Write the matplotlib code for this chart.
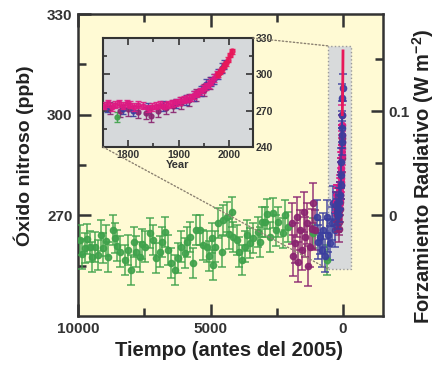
import matplotlib
matplotlib.use('Agg')
import matplotlib.pyplot as plt
from matplotlib.patches import Rectangle, ConnectionPatch
from matplotlib.ticker import FixedLocator

plt.rcParams['font.family'] = ['Liberation Sans', 'DejaVu Sans']
plt.rcParams['font.weight'] = 'bold'
plt.rcParams['axes.labelweight'] = 'bold'
plt.rcParams['mathtext.fontset'] = 'custom'
plt.rcParams['mathtext.rm'] = 'Liberation Sans:bold'
plt.rcParams['mathtext.bf'] = 'Liberation Sans:bold'
plt.rcParams['mathtext.default'] = 'bf'

# ---------------- data ----------------
# ice-core record, years before 2005
green_age = [9940, 9850, 9750, 9660, 9560, 9470, 9370, 9250, 9150, 9060, 8960, 8870, 8680, 8620,
             8520, 8430, 8240, 8110, 7990, 7900, 7800, 7670, 7580, 7480, 7300, 7170, 7050, 6920,
             6820, 6730, 6600, 6480, 6350, 6230, 6100, 5980, 5880, 5790, 5660, 5540, 5410, 5280,
             5140, 5050, 4960, 4900, 4830, 4700, 4580, 4520, 4390, 4290, 4200, 4140, 4010, 3920,
             3820, 3700, 3610, 3510, 3390, 3200, 3130, 3070, 2940, 2850, 2760, 2630, 2540, 2440,
             2260, 2200, 2060, 1130, 600]
green_ppb = [262.7, 258.5, 260.2, 263.0, 260.7, 257.5, 260.5, 258.2, 264.0, 260.2, 262.5, 257.7,
             265.6, 263.2, 261.0, 259.2, 256.7, 259.7, 253.7, 262.0, 259.2, 257.7, 261.5, 260.7,
             264.7, 262.7, 257.2, 259.2, 262.0, 265.1, 259.7, 255.7, 253.7, 257.2, 260.7, 258.7,
             262.0, 263.6, 255.7, 265.6, 265.6, 261.2, 260.7, 258.0, 263.2, 255.2, 260.7, 267.6,
             259.2, 268.6, 269.6, 264.5, 271.1, 263.6, 262.7, 259.0, 256.7, 260.7, 264.0, 261.7,
             263.2, 265.1, 262.0, 268.1, 268.1, 270.5, 263.6, 270.6, 265.5, 268.1, 264.7, 270.0,
             266.6, 264.7, 256.7]

purple_age = [1940, 1880, 1810, 1750, 1680, 1620, 1560, 1490, 1430, 1370, 1310, 1250, 1180, 1120, 1060]
purple_ppb = [267.6, 258.0, 261.7, 269.6, 256.0, 265.6, 259.7, 271.0, 263.6, 267.6, 255.0, 260.7,
              266.0, 273.6, 265.6]

blue_age = [990, 930, 870, 800, 740, 680, 620, 550, 490, 430, 370, 300, 240]
blue_ppb = [269.6, 262.0, 263.6, 259.7, 265.6, 258.0, 269.6, 264.0, 261.7, 267.6, 273.6, 265.6, 271.6]

# industrial era (calendar years)
mag_year = [1752, 1760, 1768, 1775, 1783, 1790, 1798, 1805, 1813, 1820, 1830, 1840, 1848, 1856,
            1864, 1872, 1880, 1888, 1896, 1903, 1910, 1917, 1924, 1930, 1937, 1943, 1949, 1955,
            1960, 1965, 1970, 1975]
mag_ppb = [274, 276, 273, 275, 276, 274, 276, 275, 273, 275, 274, 272, 273, 274, 275, 274, 275, 276,
           277, 278, 279, 280, 281, 283, 284, 286, 288, 290, 292, 294, 297, 300]

pur2_year = [1765, 1785, 1800, 1820, 1835, 1845, 1860, 1875, 1890, 1905, 1920, 1935, 1950, 1962]
pur2_ppb = [272, 270, 271, 269, 268, 266, 270, 272, 274, 276, 279, 283, 287, 293]

blu2_year = [1758, 1790, 1810, 1840, 1870, 1895, 1915, 1930, 1945, 1955, 1965, 1970, 1978, 1985, 1990]
blu2_ppb = [273, 271, 270, 272, 274, 276, 279, 282, 286, 292, 294, 296, 300, 305, 308]

grn2_year = [1778]
grn2_ppb = [265]

red_year = [1978, 1982, 1986, 1990, 1994, 1998, 2002, 2005]
red_ppb = [300, 302, 304, 307, 309, 312, 316, 319]

# ---------------- styling ----------------
GREEN = '#3FA24B'
PURPLE = '#8A2470'
BLUE = '#3B3E9E'
MAG = '#DE1A82'
RED = '#E8185A'
DARK = '#333333'
W, H = 440, 368

fig = plt.figure(figsize=(4.4, 3.68), dpi=100)
ax = fig.add_axes([78/W, 1-316/H, 305/W, 302/H])
ax.set_facecolor('#FFFAD4')


def eb(a, x, y, e, c, ms=4.5, lw=1.1, cs=3, z=3):
    a.errorbar(x, y, yerr=e, fmt='o', ms=ms, color=c, ecolor=c, elinewidth=lw,
               capsize=cs, capthick=lw, zorder=z, alpha=0.9)


# highlight box
ax.add_patch(Rectangle((566, 254), -868, 66.5, facecolor='#D8DADB', edgecolor='#9A9A9A',
                       linestyle=':', linewidth=1, zorder=1))

eb(ax, green_age, green_ppb, 4.5, GREEN)
eb(ax, purple_age, purple_ppb, 6, PURPLE)
eb(ax, blue_age, blue_ppb, 5, BLUE)
eb(ax, [2005 - v for v in pur2_year], pur2_ppb, 4, PURPLE, z=4)
eb(ax, [2005 - v for v in mag_year], mag_ppb, 3, MAG, z=4)
eb(ax, [2005 - v for v in blu2_year], blu2_ppb, 4, BLUE, z=5)
ax.plot([2005 - v for v in red_year], red_ppb, color=RED, lw=2, zorder=6)

ax.set_xlim(10000, -1509)
ax.set_ylim(240, 330)
ax.xaxis.set_major_locator(FixedLocator([10000, 5000, 0]))
ax.xaxis.set_minor_locator(FixedLocator([7500, 2500]))
ax.yaxis.set_major_locator(FixedLocator([270, 300, 330]))
ax.yaxis.set_minor_locator(FixedLocator([255, 285, 315]))
ax.tick_params(which='both', direction='in', top=True, right=False, color=DARK,
               labelcolor=DARK, labelsize=11, width=1.8)
ax.tick_params(which='major', length=9, pad=4)
ax.tick_params(which='minor', length=6)
for s in ax.spines.values():
    s.set_linewidth(1.8)
    s.set_color(DARK)

# right axis: radiative forcing
ax2 = ax.twinx()
ax2.set_ylim((240 - 270) / 310, (330 - 270) / 310)
ax2.yaxis.set_major_locator(FixedLocator([0, 0.1]))
ax2.yaxis.set_minor_locator(FixedLocator([0.05, 0.15]))
ax2.set_yticklabels(['0', '0.1'])
ax2.tick_params(which='both', direction='in', color=DARK, labelcolor=DARK, labelsize=11, width=1.8)
ax2.tick_params(which='major', length=9, pad=4)
ax2.tick_params(which='minor', length=6)
for s in ax2.spines.values():
    s.set_visible(False)

# axis titles placed as in the reference
fig.text(229/W, 1-350/H, 'Tiempo (antes del 2005)', fontsize=14.5, color='#222222',
         fontweight='bold', ha='center', va='center')
fig.text(24/W, 1-156/H, 'Óxido nitroso (ppb)', fontsize=14, color='#222222',
         fontweight='bold', ha='center', va='center', rotation=90)
fig.text(423/W, 1-176/H, 'Forzamiento Radiativo (W m$^{-2}$)', fontsize=14.5,
         color='#222222', fontweight='bold', ha='center', va='center', rotation=90)

# inset
axi = fig.add_axes([103/W, 1-147/H, 150/W, 109/H])
axi.set_facecolor('#D6D9DB')
eb(axi, grn2_year, grn2_ppb, 4, GREEN, ms=3.5, lw=1, cs=2.5)
eb(axi, pur2_year, pur2_ppb, 5, PURPLE, ms=3.5, lw=1, cs=2.5)
eb(axi, blu2_year, blu2_ppb, 4, BLUE, ms=3.5, lw=1, cs=2.5)
eb(axi, mag_year, mag_ppb, 3, MAG, ms=3.5, lw=1, cs=2.5, z=5)
eb(axi, red_year, red_ppb, 2, RED, ms=3.5, lw=1, cs=2, z=6)
axi.plot(red_year, red_ppb, color=RED, lw=1.5, zorder=6)
axi.set_xlim(1751, 2047)
axi.set_ylim(240, 330)
axi.xaxis.set_major_locator(FixedLocator([1800, 1900, 2000]))
axi.xaxis.set_minor_locator(FixedLocator([1850, 1950]))
axi.yaxis.set_major_locator(FixedLocator([240, 270, 300, 330]))
axi.yaxis.set_minor_locator(FixedLocator([255, 285, 315]))
axi.yaxis.tick_right()
axi.tick_params(which='both', direction='in', top=True, left=True, right=True,
                color=DARK, labelcolor=DARK, labelsize=7.5, width=1.2, pad=2)
axi.tick_params(which='major', length=5)
axi.tick_params(which='minor', length=3)
for s in axi.spines.values():
    s.set_linewidth(1.5)
    s.set_color(DARK)
axi.set_xlabel('Year', fontsize=8, color=DARK, labelpad=0, fontweight='bold')

# dotted connectors
for pa, pb in [((1, 1), (566, 320.5)), ((0, 0), (566, 254))]:
    con = ConnectionPatch(xyA=pa, coordsA=axi.transAxes, xyB=pb, coordsB=ax.transData,
                          color='#8A8070', linestyle=':', linewidth=1, zorder=2)
    fig.add_artist(con)

fig.savefig('out.png', dpi=100, facecolor='white')
